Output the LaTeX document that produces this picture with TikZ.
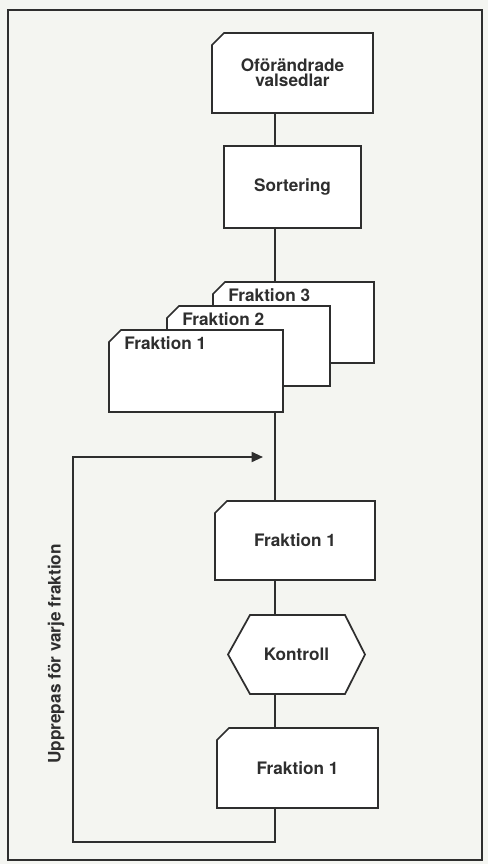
\documentclass[tikz,border=0pt]{standalone}
\usepackage{fontspec}
\setmainfont{TeX Gyre Heros}
\usetikzlibrary{calc,arrows.meta}
\definecolor{ink}{HTML}{2E2E2E}
\definecolor{paper}{HTML}{F4F5F1}
\newcommand{\cardpath}[1]{%
  \draw[ln,fill=white] ($(#1.north west)+(0,12)$) -- ($(#1.north west)+(12,0)$) -- (#1.north east) -- (#1.south east) -- (#1.south west) -- cycle;}
\begin{document}
\begin{tikzpicture}[x=0.75pt,y=-0.75pt,
  ln/.style={draw=ink,line width=1.3pt,line join=miter},
  box/.style={inner sep=0pt,outer sep=0pt},
  txt/.style={text=ink,font=\fontsize{12.9}{11.5}\selectfont\bfseries,inner sep=0pt,align=center}]
\useasboundingbox[fill=paper] (0,0) rectangle (488,864);
\draw[draw=ink,line width=1.3pt] (8,10) rectangle (482,860);
\coordinate (spine) at (275,0);
% top card
\node[box,minimum width=120.75pt,minimum height=60pt] (b1) at (292.5,73) {};
\cardpath{b1}
\node[txt] (b1t) at (b1) {Oförändrade\\valsedlar};
% sortering
\node[box,draw=ink,line width=1.3pt,fill=white,minimum width=102.75pt,minimum height=61.5pt] (b2) at (292.5,187) {};
\node[txt] (b2t) at (b2) {Sortering};
% stack
\node[box,minimum width=120.75pt,minimum height=60.75pt] (f3) at (293.5,322.5) {};
\cardpath{f3}
\node[txt,anchor=west] (f3t) at ($(f3.north west)+(15,13)$) {Fraktion 3};
\node[box,minimum width=122.25pt,minimum height=60pt] (f2) at (248.5,346) {};
\cardpath{f2}
\node[txt,anchor=west] (f2t) at ($(f2.north west)+(15,13)$) {Fraktion 2};
\node[box,minimum width=130.5pt,minimum height=61.5pt] (f1) at (196,371) {};
\cardpath{f1}
\node[txt,anchor=west] (f1t) at ($(f1.north west)+(15,13)$) {Fraktion 1};
% mid card
\node[box,minimum width=120pt,minimum height=59.25pt] (c1) at (295,540.5) {};
\cardpath{c1}
\node[txt] (c1t) at (c1) {Fraktion 1};
% hexagon
\node[box,minimum width=102.75pt,minimum height=59.25pt] (hx) at (296.5,654.5) {};
\draw[ln,fill=white] (hx.west) -- ($(hx.north west)+(22,0)$) -- ($(hx.north east)+(-20,0)$) -- (hx.east) -- ($(hx.south east)+(-20,0)$) -- ($(hx.south west)+(22,0)$) -- cycle;
\node[txt] (hxt) at (hx) {Kontroll};
% bottom card
\node[box,minimum width=120.75pt,minimum height=60pt] (c2) at (297.5,768) {};
\cardpath{c2}
\node[txt] (c2t) at (c2) {Fraktion 1};
% connectors
\draw[ln] (b1.south -| spine) -- (b2.north -| spine);
\draw[ln] (b2.south -| spine) -- (f3.north -| spine);
\draw[ln] (f1.south -| spine) -- (c1.north -| spine);
\draw[ln] (c1.south -| spine) -- (hx.north -| spine);
\draw[ln] (hx.south -| spine) -- (c2.north -| spine);
% loop
\coordinate (lb) at (275,842);
\coordinate (ll) at (73,842);
\coordinate (lt) at (73,457);
\coordinate (tip) at (263,457);
\draw[ln,-{Triangle[length=8.5pt,width=7.5pt]}] (c2.south -| spine) -- (lb) -- (ll) -- (lt) -- (tip);
\node[txt,rotate=90] (rep) at (56,654) {Upprepas för varje fraktion};
\end{tikzpicture}
\end{document}
